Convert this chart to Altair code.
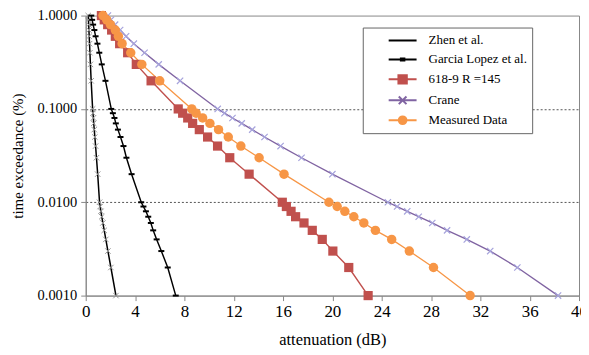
import altair as alt
import pandas as pd

# time exceedance (%) at which each curve is sampled
percent = [1.0, 0.9, 0.8, 0.7, 0.6, 0.5, 0.4, 0.3, 0.2, 0.1,
           0.09, 0.08, 0.07, 0.06, 0.05, 0.04, 0.03, 0.02, 0.01,
           0.009, 0.008, 0.007, 0.006, 0.005, 0.004, 0.003, 0.002, 0.001]

series_names = ["Zhen et al.", "Garcia Lopez et al.", "618-9 R =145", "Crane", "Measured Data"]

# attenuation (dB)
zhen = [0.20, 0.22, 0.24, 0.26, 0.28, 0.31, 0.34, 0.38, 0.44, 0.56,
        0.59, 0.62, 0.65, 0.69, 0.74, 0.80, 0.87, 0.97, 1.12,
        1.17, 1.23, 1.30, 1.39, 1.50, 1.63, 1.80, 2.04, 2.45]
garcia = [0.45, 0.52, 0.60, 0.70, 0.80, 0.95, 1.10, 1.30, 1.60, 2.07,
          2.20, 2.33, 2.44, 2.61, 2.82, 3.06, 3.30, 3.72, 4.50,
          4.68, 4.88, 5.07, 5.28, 5.47, 5.75, 6.13, 6.65, 7.30]
itu618 = [1.27, 1.50, 1.78, 2.10, 2.40, 2.75, 3.40, 4.10, 5.30, 7.50,
          7.86, 8.27, 8.67, 9.21, 9.88, 10.69, 11.68, 13.25, 15.94,
          16.27, 16.65, 17.02, 17.70, 18.37, 19.18, 20.04, 21.33, 22.90]
crane = [1.80, 2.05, 2.38, 2.79, 3.27, 3.90, 4.77, 5.92, 7.65, 10.70,
         11.25, 11.90, 12.65, 13.50, 14.50, 15.80, 17.50, 20.00, 24.50,
         25.25, 26.07, 27.00, 28.10, 29.30, 30.90, 32.80, 35.00, 38.30]
measured = [1.40, 1.70, 2.00, 2.40, 2.65, 2.95, 3.65, 4.55, 6.00, 8.60,
            8.95, 9.48, 10.07, 10.77, 11.56, 12.58, 14.06, 16.08, 19.72,
            20.39, 21.01, 21.74, 22.55, 23.49, 24.81, 26.24, 28.20, 31.17]

x_ticks = list(range(0, 41, 2))
y_ticks = [0.001, 0.01, 0.1, 1.0]

line_colors = ["#000000", "#000000", "#c0504d", "#8064a2", "#f79646"]
line_widths = [1.5, 1.3, 2.2, 2.4, 2.2]
legend_shapes = [
    "M-2,0H2",
    "M-2,0H2M-0.25,-0.14H0.25V0.14H-0.25Z",
    "M-2,0H2M-0.6,-0.6H0.6V0.6H-0.6Z",
    "M-2,0H2M-0.55,-0.55L0.55,0.55M-0.55,0.55L0.55,-0.55",
    "M-2,0H2M0.55,0A0.55,0.55 0 1,1 -0.55,0A0.55,0.55 0 1,1 0.55,0Z",
]

rows = []
for name, vals in zip(series_names, [zhen, garcia, itu618, crane, measured]):
    for i, (p, a) in enumerate(zip(percent, vals)):
        rows.append({"series": name, "idx": i, "p": p, "dB": a})
df = pd.DataFrame(rows)

FONT = "'Liberation Serif', 'Times New Roman', serif"

x_enc = alt.X("dB:Q", scale=alt.Scale(domain=[0, 40], nice=False, zero=False),
              axis=alt.Axis(values=x_ticks, labelExpr="datum.value % 4 == 0 ? datum.label : ''",
                            title="attenuation (dB)", grid=False, tickSize=5,
                            labelFont=FONT, titleFont=FONT,
                            labelFontSize=17, titleFontSize=16.5, titleFontWeight="normal",
                            labelPadding=3, titlePadding=12, labelFlush=False))
y_enc = alt.Y("p:Q", scale=alt.Scale(type="log", domain=[0.001, 1], nice=False),
              axis=alt.Axis(values=y_ticks, format=".4f", title="time exceedance (%)",
                            grid=True, gridDash=[2, 2], gridColor="#555", gridWidth=1,
                            gridOpacity={"condition": {"test": "datum.value >= 0.5 || datum.value <= 0.002", "value": 0}, "value": 1},
                            labelFont=FONT, titleFont=FONT,
                            tickSize=5, labelFontSize=14.5, titleFontSize=15,
                            titleFontWeight="normal", labelPadding=4, titlePadding=12))

base = alt.Chart(df)

lines = base.mark_line().encode(
    x=x_enc, y=y_enc,
    color=alt.Color("series:N", scale=alt.Scale(domain=series_names, range=line_colors), legend=None),
    strokeWidth=alt.StrokeWidth("series:N", scale=alt.Scale(domain=series_names, range=line_widths), legend=None),
    order="idx:Q",
)

def pts(name, **kw):
    return base.transform_filter(alt.datum.series == name).mark_point(**kw).encode(x="dB:Q", y="p:Q")

p_zhen = pts("Zhen et al.", shape="M-1,-1L1,1M-1,1L1,-1", size=30, stroke="#999999", strokeWidth=1, filled=False, opacity=1)
p_garcia = pts("Garcia Lopez et al.", shape="M-1,0L1,0", size=36, stroke="#000000", strokeWidth=2, filled=False, opacity=1)
p_itu = pts("618-9 R =145", shape="square", size=85, fill="#c0504d", filled=True, opacity=1)
p_crane = pts("Crane", shape="M-1,-1L1,1M-1,1L1,-1", size=40, stroke="#a6a3dc", strokeWidth=1.2, filled=False, opacity=1)
p_meas = pts("Measured Data", shape="circle", size=90, fill="#f79646", filled=True, opacity=1)

leg = alt.Legend(title=None, orient="none", legendX=278, legendY=12, symbolSize=196,
                 symbolStrokeWidth=2, labelFont=FONT, labelFontSize=13, labelColor="#000",
                 strokeColor="#666", fillColor="white", padding=5, rowPadding=4,
                 labelOffset=18, symbolOffset=27,
                 labelExpr="datum.label + '\u2003\u2003'")

legend_layer = base.transform_filter("false").mark_point(strokeWidth=2, opacity=1).encode(
    x="dB:Q", y="p:Q",
    fill=alt.Fill("series:N", scale=alt.Scale(domain=series_names, range=line_colors), legend=leg),
    stroke=alt.Stroke("series:N", scale=alt.Scale(domain=series_names, range=line_colors), legend=leg),
    shape=alt.Shape("series:N", scale=alt.Scale(domain=series_names, range=legend_shapes), legend=leg),
)

chart = alt.layer(lines, p_zhen, p_garcia, p_crane, p_itu, p_meas, legend_layer).resolve_scale(
    color="independent", fill="independent", stroke="independent", shape="independent"
).properties(
    width=495, height=281,
    autosize=alt.AutoSizeParams(type="none"),
    padding={"left": 78, "top": 7, "right": 2, "bottom": 58},
    background="white",
).configure(
    font=FONT
).configure_view(
    stroke="#888", strokeWidth=1
).configure_axis(
    labelFont=FONT, titleFont=FONT, labelColor="#000", titleColor="#000",
    domainColor="#888", tickColor="#888"
).configure_legend(
    labelFont=FONT
)

chart.save("out.html", embed_options={"renderer": "svg", "actions": False})
